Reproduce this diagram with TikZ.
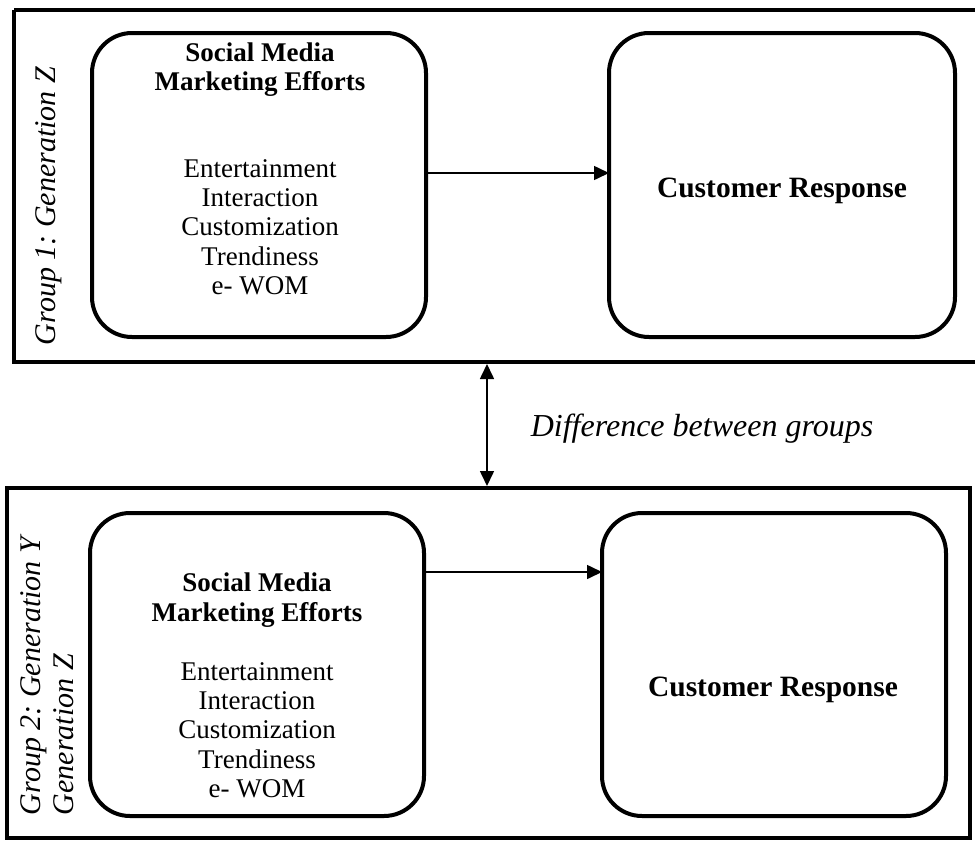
\documentclass[tikz,border=0pt]{standalone}
\usepackage{fontspec}
\setmainfont{Liberation Serif}
\usetikzlibrary{arrows.meta}
\frenchspacing
\tikzset{
  frame/.style={draw, line width=4pt},
  blob/.style={draw, line width=4pt, rounded corners=40pt},
  link/.style={line width=1.6pt, -{Triangle[length=15pt,width=14pt]}},
  twoway/.style={line width=1.6pt, {Triangle[length=15pt,width=14pt]}-{Triangle[length=15pt,width=14pt]}},
  head/.style={font=\fontsize{27}{29.5}\selectfont\bfseries, align=center},
  items/.style={font=\fontsize{27}{29.3}\selectfont, align=center},
  resp/.style={font=\fontsize{29.5}{33}\selectfont\bfseries},
  side/.style={font=\fontsize{30}{33}\selectfont\itshape, rotate=90, align=left},
}
\begin{document}
\begin{tikzpicture}[x=1pt, y=-1pt]
\useasboundingbox (0,0) rectangle (975,841);
\fill[white] (0,0) rectangle (975,841);

% group 1 panel
\draw[frame] (14,10) -- (990,10) (14,10) -- (14,362) -- (990,362);
\draw[blob] (92,33) rectangle (426,337);
\draw[blob] (609,33) rectangle (955,337);
\node[side] (g1) at (49,206) {Group 1: Generation Z};
\node[head] (h1) at (260,69.5) {Social Media\\Marketing Efforts};
\node[items] (i1) at (260,227) {Entertainment\\Interaction\\Customization\\Trendiness\\e- WOM};
\node[resp] (r1) at (782,191) {Customer Response};
\coordinate (s1) at (426,173);
\coordinate (t1) at (609,173);
\draw[link] (s1) -- (t1);

% group 2 panel
\draw[frame] (7,488) rectangle (970,838);
\draw[blob] (90,513) rectangle (424,816);
\draw[blob] (602,513) rectangle (946,816);
\node[side] (g2) at (47,676) {Group 2: Generation Y\\Generation Z};
\node[head] (h2) at (257,600) {Social Media\\Marketing Efforts};
\node[items] (i2) at (257,730) {Entertainment\\Interaction\\Customization\\Trendiness\\e- WOM};
\node[resp] (r2) at (773,690) {Customer Response};
\coordinate (s2) at (424,572);
\coordinate (t2) at (602,572);
\draw[link] (s2) -- (t2);

% comparison between the panels
\coordinate (u) at (487,364);
\coordinate (d) at (487,486);
\draw[twoway] (u) -- (d);
\node[font=\fontsize{32}{36}\selectfont\itshape] (diff) at (702,429) {Difference between groups};
\end{tikzpicture}
\end{document}
